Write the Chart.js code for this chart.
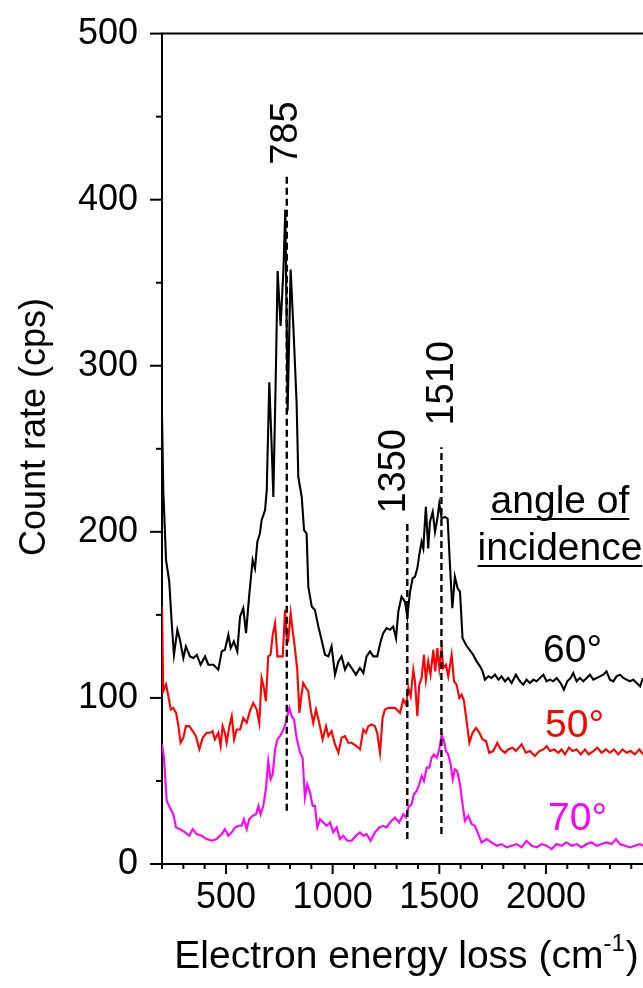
<!DOCTYPE html>
<html>
<head>
<meta charset="utf-8">
<script src="https://cdn.jsdelivr.net/npm/chart.js@4.4.1/dist/chart.umd.min.js"></script>
<style>
  html, body { margin: 0; padding: 0; background: #fff; }
</style>
</head>
<body>
<canvas id="mycanvas" width="643" height="988"></canvas>
<script>
// energy loss (cm-1) and count rate (cps)
var energy60 = [200,206,219,234,245,256,272,284,300,312,331,347,363,381,402,417,441,464,480,495,511,522,537,553,566,581,594,609,625,636,647,659,667,683,691,703,714,722,733,742,756,769,778,784,789,794,803,816,831,839,855,866,878,886,902,917,933,948,964,980,995,1011,1027,1042,1058,1073,1089,1109,1128,1144,1159,1175,1191,1209,1225,1237,1253,1269,1284,1297,1308,1323,1339,1350,1363,1375,1386,1397,1406,1417,1425,1437,1448,1456,1469,1480,1491,1500,1511,1527,1539,1550,1561,1573,1586,1597,1609,1625,1641,1659,1675,1691,1703,1714,1730,1745,1761,1777,1792,1808,1823,1839,1859,1878,1894,1909,1925,1941,1956,1972,1988,2003,2019,2034,2050,2069,2084,2100,2116,2128,2144,2159,2175,2191,2206,2222,2238,2253,2269,2284,2300,2316,2331,2347,2363,2378,2394,2409,2425,2441,2455];
var rate60 = [270,225,183,170,146,126,141,135,124,131,125,124,126,120,125,120,120,117,128,129,138,130,134,128,149,154,139,162,183,178,194,199,207,213,225,290,252,221,291,357,324,357,394,331,273,304,358,323,278,233,221,201,199,167,155,153,143,135,126,125,131,114,122,125,117,121,118,114,118,115,125,128,125,125,134,139,142,141,143,136,152,161,158,149,164,172,173,178,186,194,190,215,190,206,212,200,208,217,208,209,208,180,154,173,166,164,136,132,129,126,122,119,116,111,113,112,114,111,113,110,112,109,114,110,108,111,109,111,110,112,114,110,111,110,112,109,105,110,112,115,110,112,110,112,114,111,112,113,114,116,111,110,113,114,112,111,110,111,109,107,112];

var energy50 = [200,206,219,230,241,253,266,277,287,300,312,328,344,359,375,391,409,425,437,448,464,475,484,495,503,516,527,538,550,566,581,597,612,628,644,656,667,678,687,698,709,719,730,741,753,766,777,784,792,803,812,823,834,844,853,862,875,886,897,909,922,937,953,969,980,995,1011,1027,1042,1058,1073,1089,1112,1128,1144,1156,1167,1183,1198,1209,1222,1234,1245,1261,1277,1292,1316,1331,1344,1355,1366,1378,1386,1397,1406,1417,1428,1437,1448,1459,1472,1481,1491,1500,1511,1519,1531,1542,1558,1569,1581,1594,1605,1616,1628,1641,1656,1672,1688,1703,1719,1734,1753,1772,1788,1808,1823,1844,1859,1886,1906,1925,1948,1969,1988,2003,2019,2038,2058,2073,2089,2108,2125,2144,2163,2183,2200,2222,2241,2261,2281,2300,2319,2339,2359,2378,2397,2417,2438,2455];
var rate50 = [155,104,108,101,93,94,91,83,73,76,83,83,80,77,69,76,79,79,80,75,79,71,83,79,73,83,89,75,81,81,88,85,92,97,93,85,112,106,98,125,126,138,145,125,125,125,153,137,135,151,141,130,117,91,101,109,106,104,93,85,93,85,75,83,77,80,72,67,76,77,73,73,71,69,81,79,83,84,83,79,67,88,93,94,94,94,91,99,96,106,101,117,110,89,108,112,126,111,122,114,129,116,130,118,130,118,120,113,126,110,108,100,102,98,86,73,79,82,79,75,74,67,68,73,69,67,69,70,68,72,67,68,65,68,69,71,68,69,67,69,66,70,68,69,66,69,66,68,70,67,69,67,69,66,69,67,68,66,69,66];

var energy70 = [200,209,222,237,253,266,284,308,328,344,363,386,409,433,456,480,495,511,527,542,558,573,584,597,609,625,641,652,662,675,688,698,709,719,730,741,753,766,778,787,797,808,819,831,847,859,870,881,894,906,917,928,941,956,972,988,1003,1019,1034,1050,1069,1089,1109,1128,1144,1159,1178,1198,1219,1237,1253,1269,1292,1312,1331,1344,1355,1370,1381,1394,1406,1417,1428,1441,1453,1464,1475,1488,1500,1511,1522,1531,1542,1553,1563,1573,1584,1597,1609,1620,1636,1652,1667,1683,1698,1722,1745,1769,1792,1816,1839,1863,1886,1909,1933,1956,1980,2003,2027,2050,2073,2097,2120,2144,2167,2191,2214,2238,2261,2284,2308,2328,2347,2370,2394,2417,2441,2455];
var rate70 = [72,64,38,34,30,22,21,19,17,21,18,17,15,14,15,18,21,17,19,22,23,23,27,21,27,29,30,35,30,35,46,62,51,54,69,75,77,80,84,89,94,89,87,76,67,64,40,48,43,35,35,22,27,25,23,25,19,22,15,17,14,14,17,19,17,18,14,19,22,23,22,25,28,25,30,28,34,36,42,44,48,53,50,58,58,64,66,64,69,78,74,68,66,60,51,57,56,48,36,26,29,24,23,18,13,15,13,11,12,10,11,12,10,14,11,10,12,11,9,12,11,13,11,12,10,12,13,11,12,13,12,15,12,11,10,11,12,11];

// dashed peak markers
var markerEnergy = [785, 1350, 1510];
var markerLow = [32, 15, 18];
var markerHigh = [416, 205, 251];
var markerText = ['785', '1350', '1510'];
var markerTextAt = [421, 211, 264];

var angleText = ['60°', '50°', '70°'];
var angleColor = ['#000000', '#ff0000', '#ff00ff'];

var FONT = "'Liberation Sans', Arial, Helvetica, sans-serif";

function pts(xs, ys) {
  var out = [];
  for (var i = 0; i < xs.length; i++) out.push({x: xs[i], y: ys[i]});
  return out;
}

var datasets = [];
for (var m = 0; m < markerEnergy.length; m++) {
  datasets.push({
    data: [{x: markerEnergy[m], y: markerLow[m]}, {x: markerEnergy[m], y: markerHigh[m]}],
    borderColor: '#000', borderWidth: 2.4, borderDash: [7, 4], pointRadius: 0
  });
}
datasets.push({ data: pts(energy60, rate60), borderColor: angleColor[0], borderWidth: 2.1, pointRadius: 0 });
datasets.push({ data: pts(energy50, rate50), borderColor: angleColor[1], borderWidth: 2.1, pointRadius: 0 });
datasets.push({ data: pts(energy70, rate70), borderColor: angleColor[2], borderWidth: 2.1, pointRadius: 0 });

var decor = {
  id: 'decor',
  afterDraw: function(chart) {
    var c = chart.ctx, a = chart.chartArea;
    var xs = chart.scales.x, ys = chart.scales.y;
    c.save();
    c.strokeStyle = '#000';
    c.fillStyle = '#000';
    c.lineWidth = 2;
    // top frame line
    c.beginPath();
    c.moveTo(a.left - 1, a.top);
    c.lineTo(a.right, a.top);
    c.stroke();
    // x ticks
    for (var v = 200; v <= 2400; v += 100) {
      var px = xs.getPixelForValue(v);
      var len = v % 500 === 0 ? 10 : 5;
      c.beginPath(); c.moveTo(px, a.bottom); c.lineTo(px, a.bottom + len); c.stroke();
    }
    // y ticks
    for (var w = 0; w <= 500; w += 50) {
      var py = ys.getPixelForValue(w);
      var l2 = w % 100 === 0 ? 12 : 6;
      c.beginPath(); c.moveTo(a.left, py); c.lineTo(a.left - l2, py); c.stroke();
    }

    // y title
    c.font = '36px ' + FONT;
    c.textAlign = 'center';
    c.textBaseline = 'alphabetic';
    c.save();
    c.translate(45, 427);
    c.rotate(-Math.PI / 2);
    c.fillText('Count rate (cps)', 0, 0);
    c.restore();

    // x title with superscript
    var big = '39px ' + FONT, small = '24px ' + FONT;
    c.textAlign = 'left';
    c.font = big;
    var t1 = 'Electron energy loss (cm', t3 = ')';
    var w1 = c.measureText(t1).width, w3 = c.measureText(t3).width;
    c.font = small;
    var w2 = c.measureText('-1').width;
    var x0 = 406 - (w1 + w2 + w3) / 2, base = 968;
    c.font = big; c.fillText(t1, x0, base);
    c.font = small; c.fillText('-1', x0 + w1, base - 17);
    c.font = big; c.fillText(t3, x0 + w1 + w2 + 1, base);

    // marker labels
    c.font = '38px ' + FONT;
    c.textBaseline = 'middle';
    var shift = [0, -13, 1];
    for (var k = 0; k < markerEnergy.length; k++) {
      c.save();
      c.translate(xs.getPixelForValue(markerEnergy[k]) + shift[k], ys.getPixelForValue(markerTextAt[k]));
      c.rotate(-Math.PI / 2);
      c.fillText(markerText[k], 0, 0);
      c.restore();
    }

    // legend heading, underlined
    c.font = '39px ' + FONT;
    c.textAlign = 'center';
    c.textBaseline = 'alphabetic';
    var heads = [['angle of', 513], ['incidence', 560]];
    for (var h = 0; h < heads.length; h++) {
      c.fillText(heads[h][0], 560, heads[h][1]);
      var hw = c.measureText(heads[h][0]).width;
      c.beginPath();
      c.moveTo(560 - hw / 2, heads[h][1] + 6);
      c.lineTo(560 + hw / 2, heads[h][1] + 6);
      c.stroke();
    }
    // angle labels
    c.textAlign = 'left';
    var lx = [543, 545, 548], ly = [662, 737, 830];
    for (var g = 0; g < angleText.length; g++) {
      c.fillStyle = angleColor[g];
      c.fillText(angleText[g], lx[g], ly[g]);
    }
    c.restore();
  }
};

var ctx = document.getElementById('mycanvas');
var chart = new Chart(ctx, {
  type: 'line',
  data: { datasets: datasets },
  options: {
    responsive: false,
    animation: false,
    devicePixelRatio: 1,
    layout: { padding: { left: 0, top: 30, right: 0, bottom: 0 } },
    plugins: { legend: { display: false }, tooltip: { enabled: false } },
    elements: { line: { tension: 0 } },
    scales: {
      x: {
        type: 'linear', min: 200, max: 2455,
        ticks: {
          stepSize: 100, autoSkip: false, maxRotation: 0, includeBounds: false,
          color: '#000', padding: 2, font: { size: 36, family: FONT },
          callback: function(v) { return v % 500 === 0 ? String(v) : ''; }
        },
        grid: { drawOnChartArea: false, tickLength: 10, tickColor: 'rgba(0,0,0,0)' },
        border: { color: '#000', width: 2 },
        afterFit: function(s) { s.height = 124; }
      },
      y: {
        min: 0, max: 500,
        ticks: {
          stepSize: 50, autoSkip: false, color: '#000', padding: 12,
          font: { size: 36, family: FONT },
          callback: function(v) { return v % 100 === 0 ? String(v) : ''; }
        },
        grid: { drawOnChartArea: false, tickLength: 12, tickColor: 'rgba(0,0,0,0)' },
        border: { color: '#000', width: 2 },
        afterFit: function(s) { s.width = 162; }
      }
    }
  },
  plugins: [decor]
});
</script>
</body>
</html>
